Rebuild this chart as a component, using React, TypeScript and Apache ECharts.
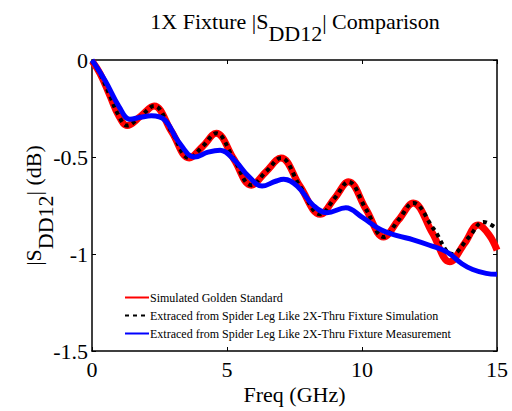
import React, { useEffect, useRef } from "react";
import * as echarts from "echarts";

// Simulated golden standard (red)
const goldFreq = [0, 0.3, 0.65, 1.0, 1.3, 1.8, 2.3, 2.95, 3.6, 4.1, 4.6, 5.25, 5.9, 6.45, 7.0, 7.7, 8.45, 9.0, 9.5, 10.15, 10.8, 11.35, 11.9, 12.6, 13.25, 13.8, 14.3, 14.7, 15.0];
const goldVals = [-0.005, -0.07, -0.18, -0.29, -0.338, -0.29, -0.237, -0.37, -0.505, -0.445, -0.378, -0.51, -0.645, -0.575, -0.505, -0.65, -0.795, -0.71, -0.628, -0.77, -0.912, -0.825, -0.737, -0.89, -1.04, -0.945, -0.851, -0.9, -0.98];

// Extracted from 2X-thru fixture simulation (black dotted)
const simFreq = [0, 0.3, 0.65, 1.0, 1.3, 1.8, 2.3, 2.95, 3.6, 4.1, 4.6, 5.25, 5.9, 6.45, 7.0, 7.7, 8.45, 9.0, 9.5, 10.15, 10.8, 11.35, 11.9, 12.65, 13.35, 13.95, 14.5, 15.0];
const simVals = [-0.005, -0.07, -0.18, -0.29, -0.338, -0.29, -0.237, -0.37, -0.505, -0.445, -0.378, -0.51, -0.645, -0.575, -0.505, -0.65, -0.795, -0.71, -0.628, -0.77, -0.912, -0.825, -0.737, -0.87, -1.0, -0.915, -0.835, -0.87];

// Extracted from 2X-thru fixture measurement (blue)
const measFreq = [0, 0.5, 1.0, 1.4, 1.8, 2.2, 2.7, 3.2, 3.8, 4.3, 4.75, 5.3, 5.8, 6.3, 6.8, 7.1, 7.6, 8.2, 8.7, 9.4, 10.0, 10.7, 11.3, 11.9, 12.5, 13.15, 13.7, 14.1, 14.6, 15.0];
const measVals = [0, -0.11, -0.24, -0.305, -0.295, -0.288, -0.31, -0.42, -0.5, -0.475, -0.465, -0.52, -0.6, -0.65, -0.625, -0.615, -0.65, -0.75, -0.787, -0.762, -0.81, -0.875, -0.905, -0.927, -0.955, -0.99, -1.05, -1.08, -1.1, -1.105];

const seriesNames = [
  "Simulated Golden Standard",
  "Extraced from Spider Leg Like 2X-Thru Fixture Simulation",
  "Extraced from Spider Leg Like 2X-Thru Fixture Measurement",
];

const xTicks = [0, 5, 10, 15];
const yTicks = [0, -0.5, -1, -1.5];

const FONT = "Liberation Serif";

const pairs = (xs: number[], ys: number[]) => xs.map((x, i) => [x, ys[i]]);

const fmtY = (v: number) => (v === 0 ? "0" : String(v));

export default function App() {
  const ref = useRef<HTMLDivElement>(null);

  useEffect(() => {
    if (!ref.current) return;
    const chart = echarts.init(ref.current, null, { renderer: "svg" });
    const axisCommon = {
      type: "value" as const,
      axisLine: { show: true, onZero: false, lineStyle: { color: "#000", width: 1.5 } },
      axisTick: { show: true, inside: true, length: 4, lineStyle: { color: "#000", width: 1 } },
      splitLine: { show: false },
    };
    const richMain = { fontFamily: FONT, fontSize: 22, fontWeight: "normal" as const, color: "#000", verticalAlign: "top" as const, lineHeight: 26 };
    const tickLabel = { fontFamily: FONT, fontSize: 22, color: "#000" };
    chart.setOption({
      animation: false,
      backgroundColor: "#fff",
      textStyle: { fontFamily: FONT },
      title: {
        text: "{a|1X Fixture |S}{b|DD12}{a|| Comparison}",
        left: 290,
        top: 5,
        textAlign: "center",
        textStyle: {
          fontWeight: "normal",
          fontFamily: FONT,
          rich: {
            a: richMain,
            b: { ...richMain, padding: [12, 0, 0, 0] },
          },
        },
      },
      grid: { left: 92, right: 15, top: 60, bottom: 60 },
      legend: {
        orient: "vertical",
        left: 124,
        top: 291,
        itemWidth: 24,
        itemHeight: 6,
        itemGap: 5,
        padding: 0,
        itemStyle: { opacity: 0 },
        textStyle: { fontFamily: FONT, fontSize: 12, color: "#000", padding: [0, 0, 0, -4], lineHeight: 13 },
        data: seriesNames,
      },
      xAxis: [
        {
          ...axisCommon,
          min: 0,
          max: 15,
          interval: 5,
          name: "{t|Freq (GHz)}",
          nameLocation: "middle",
          nameGap: 32,
          nameMoveOverlap: false,
          nameTextStyle: { fontFamily: FONT, fontSize: 22, color: "#000", rich: { t: tickLabel } },
          axisLabel: {
            ...tickLabel,
            margin: 7,
            formatter: (v: number) => (xTicks.includes(v) ? `{t|${v}}` : ""),
            rich: { t: tickLabel },
          },
        },
        {
          ...axisCommon,
          position: "top",
          min: 0,
          max: 15,
          interval: 5,
          axisLabel: { show: false },
        },
      ],
      yAxis: [
        {
          ...axisCommon,
          min: -1.5,
          max: 0,
          interval: 0.5,
          name: "{a||S}{b|DD12}{a|| (dB)}",
          nameLocation: "middle",
          nameRotate: 90,
          nameGap: 44,
          nameMoveOverlap: false,
          nameTextStyle: {
            fontFamily: FONT,
            rich: {
              a: richMain,
              b: { ...richMain, padding: [12, 0, 0, 0] },
            },
          },
          axisLabel: {
            ...tickLabel,
            margin: 4,
            formatter: (v: number) => (yTicks.includes(v) ? `{t|${fmtY(v)}}` : ""),
            rich: { t: tickLabel },
          },
        },
        {
          ...axisCommon,
          position: "right",
          min: -1.5,
          max: 0,
          interval: 0.5,
          axisLabel: { show: false },
        },
      ],
      series: [
        {
          name: seriesNames[0],
          type: "line",
          data: pairs(goldFreq, goldVals),
          smooth: 0.4,
          symbol: "none",
          lineStyle: { color: "#ff0000", width: 7 },
          itemStyle: { color: "#ff0000" },
          z: 2,
        },
        {
          name: seriesNames[1],
          type: "line",
          data: pairs(simFreq, simVals),
          smooth: 0.4,
          symbol: "none",
          lineStyle: { color: "#000", width: 4, type: [4, 4], cap: "butt" },
          itemStyle: { color: "#000" },
          z: 3,
        },
        {
          name: seriesNames[2],
          type: "line",
          data: pairs(measFreq, measVals),
          smooth: 0.4,
          symbol: "none",
          lineStyle: { color: "#0000ff", width: 5 },
          itemStyle: { color: "#0000ff" },
          z: 4,
        },
      ],
    });
    return () => chart.dispose();
  }, []);

  return <div ref={ref} style={{ width: 512, height: 411, position: "absolute", left: 0, top: 0 }} />;
}
